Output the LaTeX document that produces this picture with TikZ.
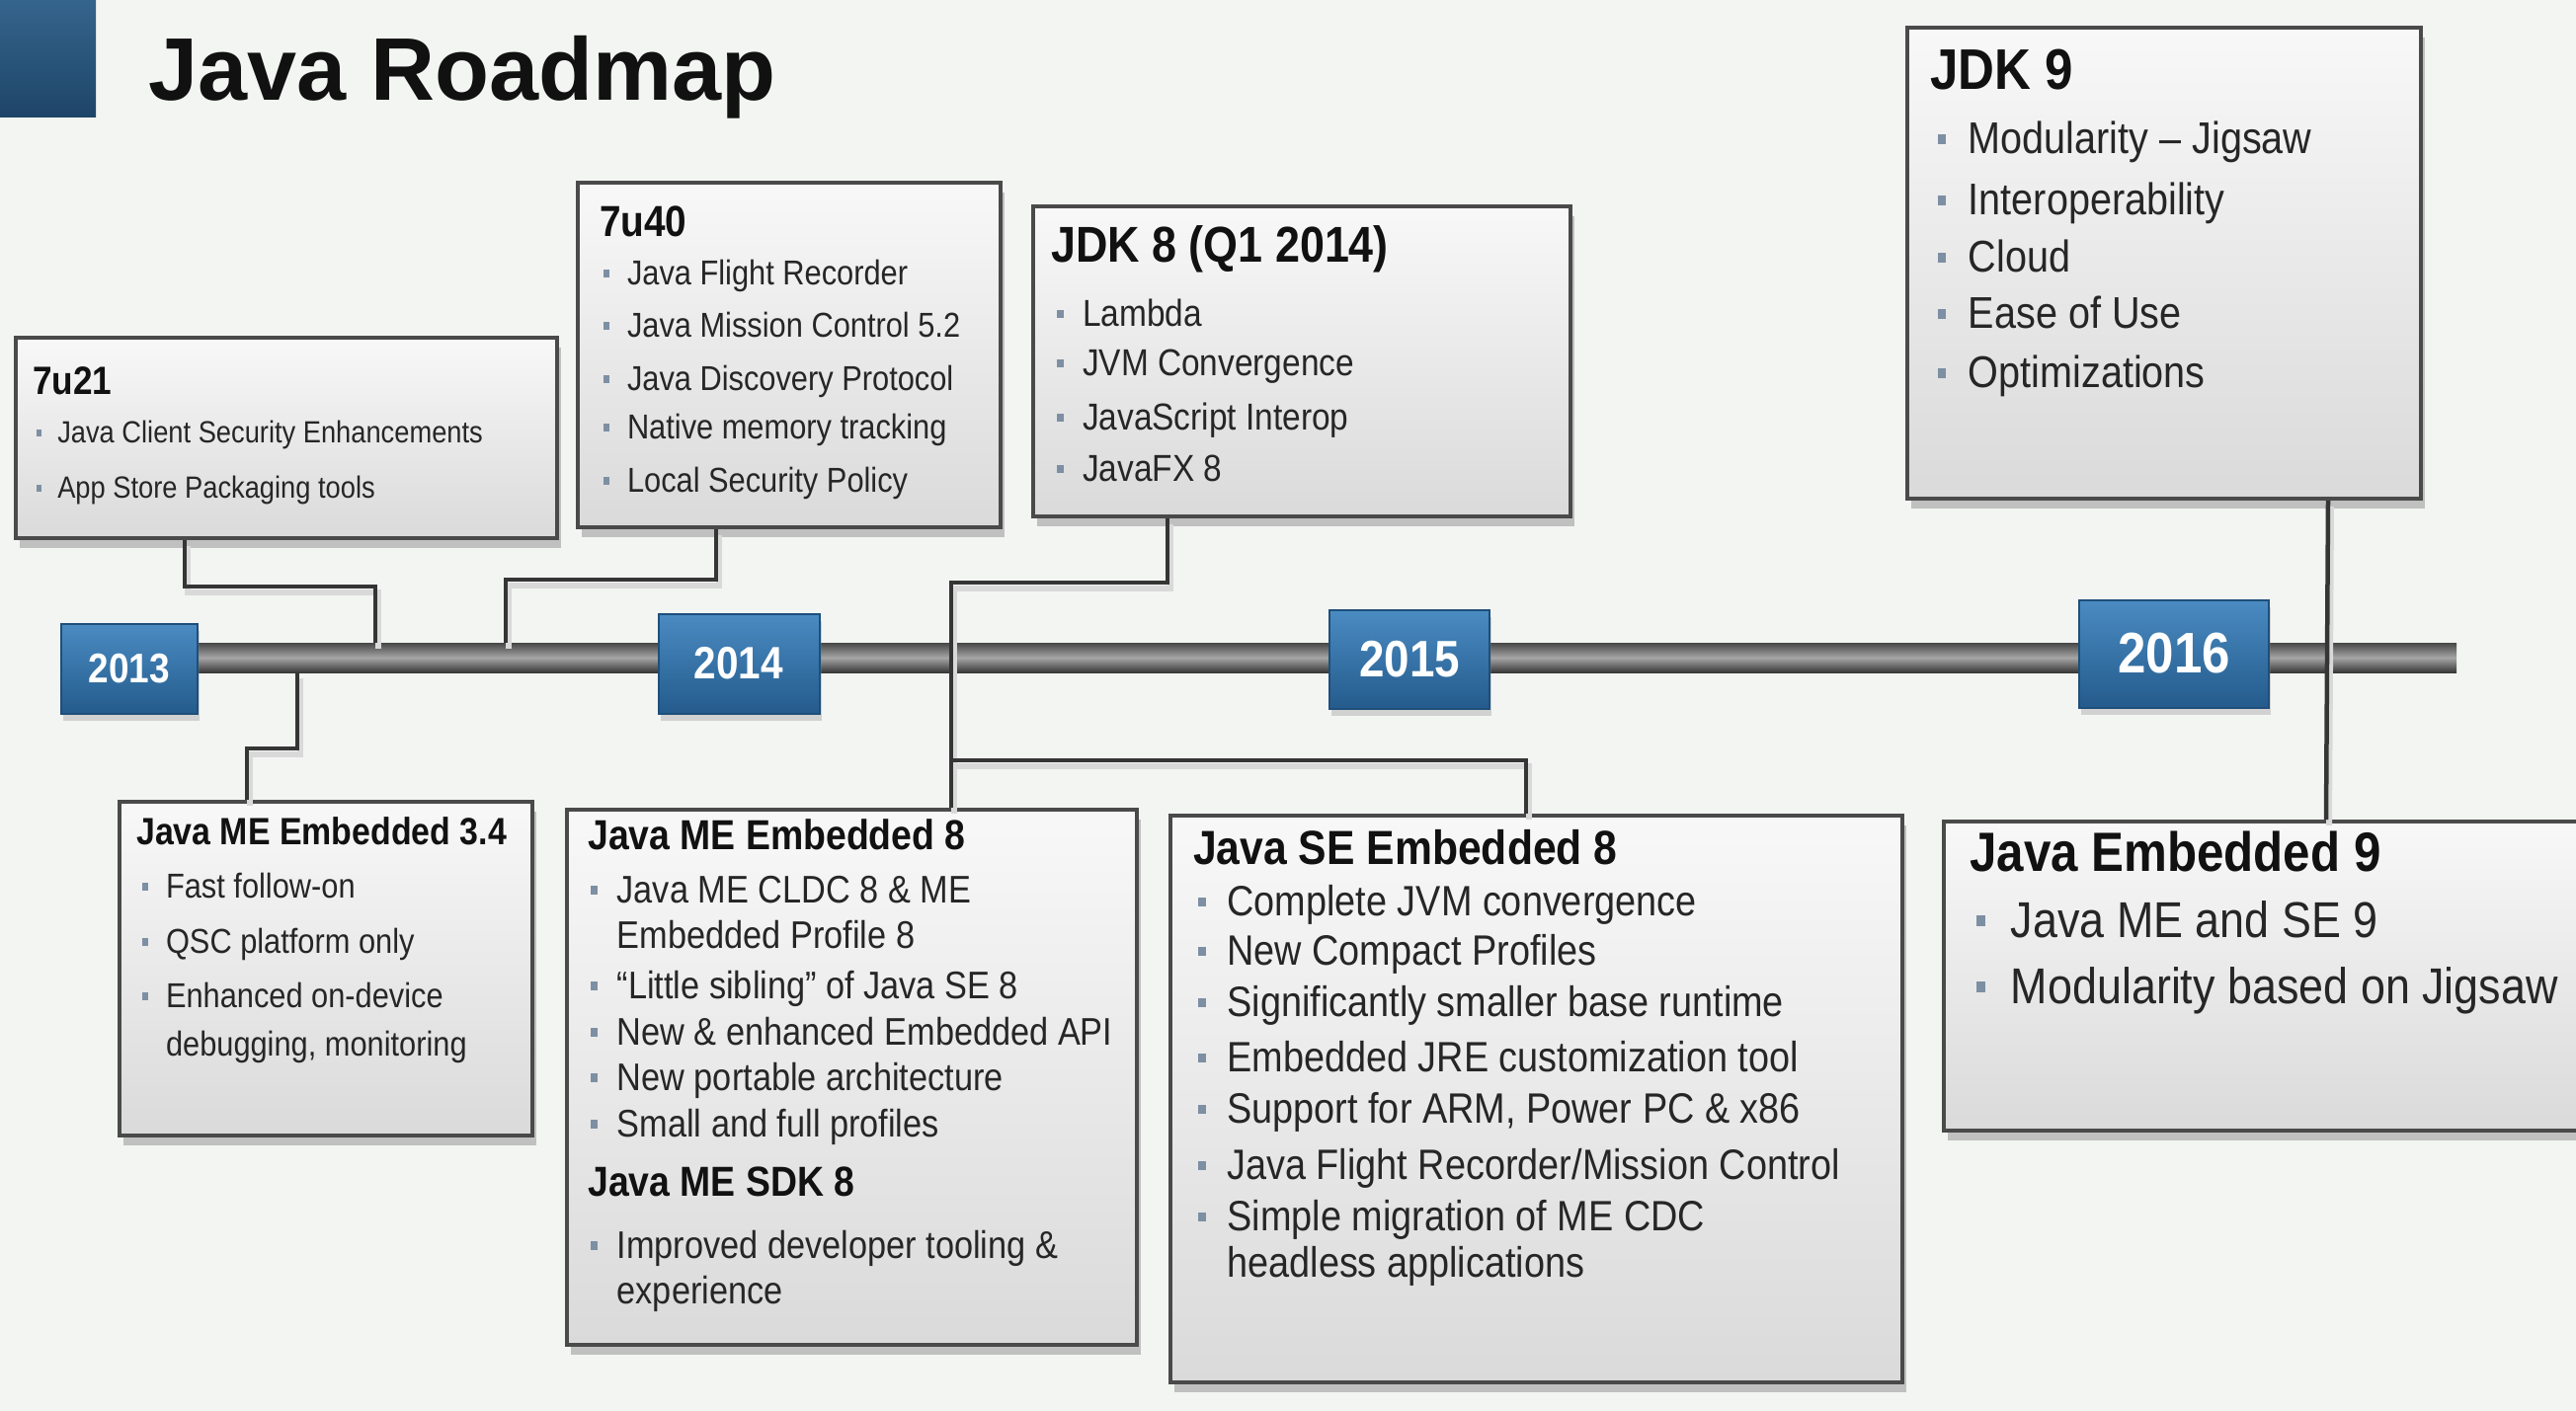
\documentclass[tikz,border=0pt]{standalone}
\usepackage{fontspec}
\setmainfont{Liberation Sans}[FakeStretch=0.88]
\newfontfamily\titlefont{Liberation Sans}
\usetikzlibrary{shadows}
\definecolor{bgcol}{HTML}{F3F5F3}
\definecolor{boxline}{HTML}{4A4A4A}
\definecolor{boxtop}{HTML}{F8F8F8}
\definecolor{boxbot}{HTML}{DADADA}
\definecolor{txtcol}{HTML}{262626}
\definecolor{hdrcol}{HTML}{111111}
\definecolor{bulcol}{HTML}{7D8FA3}
\definecolor{yeartop}{HTML}{4A8BC2}
\definecolor{yearbot}{HTML}{245B8C}
\definecolor{yearline}{HTML}{1E4F7A}
\definecolor{conncol}{HTML}{353535}
\definecolor{sqtop}{HTML}{35648C}
\definecolor{sqbot}{HTML}{1E4568}
\newcommand\bl{\makebox[0.68em][l]{\textcolor{bulcol}{\rule[0.22em]{0.17em}{0.22em}}}}
\newcommand\ct{\hspace*{0.68em}}
\tikzset{
  panel/.style={rectangle, draw=boxline, line width=4pt, top color=boxtop, bottom color=boxbot,
    inner sep=0pt, drop shadow={shadow xshift=4pt, shadow yshift=-10pt, opacity=0.45}},
  yearbox/.style={rectangle, draw=yearline, line width=2pt, top color=yeartop, bottom color=yearbot,
    text=white, inner sep=0pt, drop shadow={shadow xshift=2pt, shadow yshift=-7pt, opacity=0.3},
    font=\bfseries\fontsize{#1}{#1}\selectfont},
  hdr/.style={anchor=mid west, inner sep=0pt, text=hdrcol, font=\bfseries\fontsize{#1}{#1}\selectfont},
  itm/.style={anchor=mid west, inner sep=0pt, text=txtcol, font=\fontsize{#1}{#1}\selectfont},
  conn/.style={draw=conncol, line width=4.5pt, line join=miter,
    preaction={draw=black!15, line width=6pt, transform canvas={xshift=3pt, yshift=-6pt}}},
  barstyle/.style={rectangle, inner sep=0pt, top color=black!72, bottom color=black!78, middle color=black!35},
}
\begin{document}
\begin{tikzpicture}[x=1pt,y=-1pt]
\useasboundingbox (0,0) rectangle (2608,1429);
\clip (0,0) rectangle (2608,1429);
\fill[bgcol] (0,0) rectangle (2608,1429);

% corner square and title
\shade[top color=sqtop, bottom color=sqbot] (0,0) rectangle (97,118);
\node[anchor=base west, inner sep=0pt, text=hdrcol, font=\titlefont\bfseries\fontsize{90}{90}\selectfont] (title) at (150,102) {Java Roadmap};

% boxes
\node[panel, minimum width=548pt, minimum height=203pt] (b7u21) at (290,443.5) {};
\node[panel, minimum width=428pt, minimum height=349pt] (b7u40) at (799,359.5) {};
\node[panel, minimum width=544pt, minimum height=314pt] (bjdk8) at (1318,366) {};
\node[panel, minimum width=520pt, minimum height=477pt] (bjdk9) at (2191,266.5) {};
\node[panel, minimum width=418pt, minimum height=338pt] (bme34) at (330,981) {};
\node[panel, minimum width=577pt, minimum height=542pt] (bme8) at (862.5,1091) {};
\node[panel, minimum width=741pt, minimum height=574pt] (bse8) at (1555.5,1113) {};
\node[panel, minimum width=672pt, minimum height=313pt] (bje9) at (2304,988.5) {};

% timeline bar
\node[barstyle, minimum width=2417pt, minimum height=30pt] (bar) at (1278.5,666) {};
\coordinate (t1) at (380,651);
\coordinate (t2) at (512,651);
\coordinate (t4) at (301,681);
\coordinate (j3) at (965,770);

% connectors
\draw[conn] ([xshift=-103pt]b7u21.south) -- ++(0,47) -| (t1);
\draw[conn] ([xshift=-74pt]b7u40.south) -- ++(0,51) -| (t2);
\draw[conn] ([xshift=-136pt]bjdk8.south) -- ++(0,65) -| ([xshift=391pt]bme8.north west);
\draw[conn] (j3) -| ([xshift=362pt]bse8.north west);
\draw[conn] (t4) -- ++(0,77) -| ([xshift=131pt]bme34.north west);
\draw[conn] ([xshift=166pt]bjdk9.south) -- ([xshift=389pt]bje9.north west);

% year markers
\node[yearbox=42, minimum width=138pt, minimum height=91pt] (y2013) at (131,677) {2013};
\node[yearbox=46, minimum width=163pt, minimum height=101pt] (y2014) at (748,672) {2014};
\node[yearbox=52, minimum width=162pt, minimum height=100pt] (y2015) at (1427,668) {2015};
\node[yearbox=58, minimum width=192pt, minimum height=109pt] (y2016) at (2201,662) {2016};

% 7u21
\node[hdr=40] (h7u21) at (33,397) {7u21};
\node[itm=31] (i7u21a) at (37,446) {\bl Java Client Security Enhancements};
\node[itm=31] (i7u21b) at (37,502) {\bl App Store Packaging tools};

% 7u40
\node[hdr=44] (h7u40) at (607,237) {7u40};
\node[itm=35] (i7u40a) at (611,286) {\bl Java Flight Recorder};
\node[itm=35] (i7u40b) at (611,339) {\bl Java Mission Control 5.2};
\node[itm=35] (i7u40c) at (611,393) {\bl Java Discovery Protocol};
\node[itm=35] (i7u40d) at (611,442) {\bl Native memory tracking};
\node[itm=35] (i7u40e) at (611,496) {\bl Local Security Policy};

% JDK 8
\node[hdr=51] (hjdk8) at (1064,263) {JDK 8 (Q1 2014)};
\node[itm=38] (ijdk8a) at (1070,328) {\bl Lambda};
\node[itm=38] (ijdk8b) at (1070,378) {\bl JVM Convergence};
\node[itm=38] (ijdk8c) at (1070,433) {\bl JavaScript Interop};
\node[itm=38] (ijdk8d) at (1070,485) {\bl JavaFX 8};

% JDK 9
\node[hdr=58] (hjdk9) at (1954,88) {JDK 9};
\node[itm=45] (ijdk9a) at (1962,153) {\bl Modularity – Jigsaw};
\node[itm=45] (ijdk9b) at (1962,215) {\bl Interoperability};
\node[itm=45] (ijdk9c) at (1962,273) {\bl Cloud};
\node[itm=45] (ijdk9d) at (1962,330) {\bl Ease of Use};
\node[itm=45] (ijdk9e) at (1962,390) {\bl Optimizations};

% Java ME Embedded 3.4
\node[hdr=38.5] (hme34) at (138,853) {Java ME Embedded 3.4};
\node[itm=35] (ime34a) at (144,907) {\bl Fast follow-on};
\node[itm=35] (ime34b) at (144,963) {\bl QSC platform only};
\node[itm=35] (ime34c) at (144,1018) {\bl Enhanced on-device};
\node[itm=35] (ime34d) at (144,1067) {\ct debugging, monitoring};

% Java ME Embedded 8
\node[hdr=42.5] (hme8) at (595,858) {Java ME Embedded 8};
\node[itm=39] (ime8a) at (598,912) {\bl Java ME CLDC 8 \& ME};
\node[itm=39] (ime8b) at (598,958) {\ct Embedded Profile 8};
\node[itm=39] (ime8c) at (598,1009) {\bl “Little sibling” of Java SE 8};
\node[itm=39] (ime8d) at (598,1056) {\bl New \& enhanced Embedded API};
\node[itm=39] (ime8e) at (598,1102) {\bl New portable architecture};
\node[itm=39] (ime8f) at (598,1149) {\bl Small and full profiles};
\node[hdr=42.5] (hsdk8) at (595,1209) {Java ME SDK 8};
\node[itm=39] (isdk8a) at (598,1272) {\bl Improved developer tooling \&};
\node[itm=39] (isdk8b) at (598,1318) {\ct experience};

% Java SE Embedded 8
\node[hdr=48.5] (hse8) at (1208,873) {Java SE Embedded 8};
\node[itm=43] (ise8a) at (1213,925) {\bl Complete JVM convergence};
\node[itm=43] (ise8b) at (1213,975) {\bl New Compact Profiles};
\node[itm=43] (ise8c) at (1213,1027) {\bl Significantly smaller base runtime};
\node[itm=43] (ise8d) at (1213,1083) {\bl Embedded JRE customization tool};
\node[itm=43] (ise8e) at (1213,1135) {\bl Support for ARM, Power PC \& x86};
\node[itm=43] (ise8f) at (1213,1192) {\bl Java Flight Recorder/Mission Control};
\node[itm=43] (ise8g) at (1213,1244) {\bl Simple migration of ME CDC};
\node[itm=43] (ise8h) at (1213,1291) {\ct headless applications};

% Java Embedded 9
\node[hdr=56] (hje9) at (1994,880) {Java Embedded 9};
\node[itm=51] (ije9a) at (2001,947) {\bl Java ME and SE 9};
\node[itm=51] (ije9b) at (2001,1014) {\bl Modularity based on Jigsaw};
\end{tikzpicture}
\end{document}
